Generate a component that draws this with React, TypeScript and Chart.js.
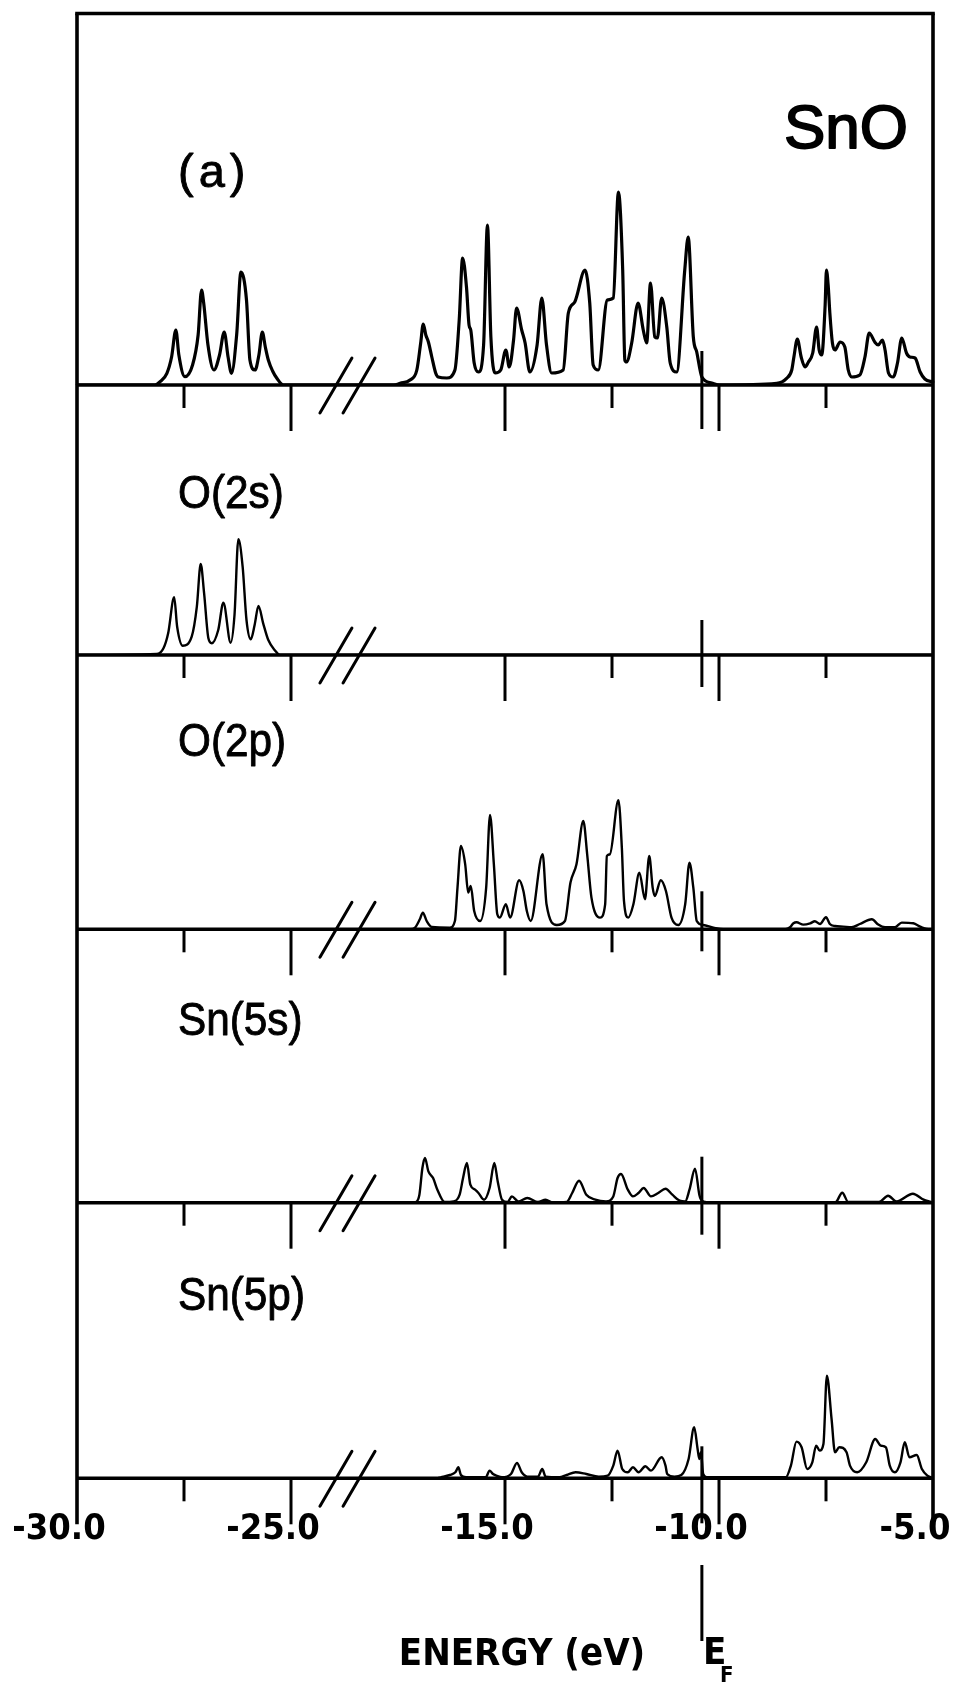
import React, { useEffect, useRef } from 'react';
import { Chart, LinearScale, registerables } from 'chart.js';

Chart.register(...registerables);

// ---------------- data ----------------
const X_MIN = -30;
const X_MAX = -5;
const X_TICKS = [-30, -25, -15, -10, -5];
const X_MINOR_TICKS = [-27.5, -12.5, -7.5];
const E_FERMI = -10.4;
// energies at or below BREAK_AT lie in the O(2s) window; the axis break removes BREAK_SHIFT eV
const BREAK_AT = -22;
const BREAK_SHIFT = 5;
const BREAK_MARKS = [-18.95, -18.41];

const PANEL_LABELS = ['(a)', 'O(2s)', 'O(2p)', 'Sn(5s)', 'Sn(5p)'];
// full scale of each panel (arbitrary DOS units)
const PANEL_RANGE = [371.5, 270, 274.3, 273.4, 275.6];

// [energy (eV), DOS (arb. units)]
const TOTAL_DOS = [
  [-30, 0], [-28.18, 0], [-28.06, 3.3], [-27.9, 11.7], [-27.79, 28], [-27.69, 55], [-27.62, 30],
  [-27.48, 8.3], [-27.3, 20], [-27.17, 50], [-27.09, 95], [-27.04, 82], [-26.94, 40], [-26.8, 15],
  [-26.67, 30], [-26.56, 53], [-26.47, 28], [-26.39, 11.7], [-26.27, 50], [-26.17, 113], [-26.04, 85],
  [-25.96, 25], [-25.84, 15], [-25.75, 30], [-25.67, 53], [-25.6, 38], [-25.53, 25], [-25.43, 14],
  [-25.33, 6.7], [-25.18, 0],
  [-17.6, 0], [-17.45, 1.7], [-17.22, 5], [-17.06, 15], [-16.97, 42], [-16.91, 61], [-16.85, 50],
  [-16.79, 43], [-16.71, 28], [-16.62, 12], [-16.56, 8], [-16.36, 7], [-16.17, 15], [-16.07, 65],
  [-15.99, 127], [-15.9, 98], [-15.84, 60], [-15.8, 55], [-15.72, 22], [-15.62, 13], [-15.5, 40],
  [-15.41, 160], [-15.33, 48], [-15.23, 12], [-15.1, 15], [-14.98, 35], [-14.9, 18], [-14.8, 45],
  [-14.73, 77], [-14.61, 55], [-14.53, 42], [-14.42, 13], [-14.25, 40], [-14.14, 87], [-14.03, 40],
  [-13.91, 12], [-13.64, 15], [-13.52, 72], [-13.37, 83], [-13.13, 115], [-13.02, 82], [-12.94, 20],
  [-12.82, 15], [-12.61, 85], [-12.47, 87], [-12.35, 193], [-12.25, 115], [-12.2, 25], [-12.16, 23],
  [-12.04, 42], [-11.89, 82], [-11.77, 55], [-11.69, 42], [-11.6, 102], [-11.5, 48], [-11.44, 47],
  [-11.34, 87], [-11.22, 58], [-11.14, 22], [-10.99, 13], [-10.8, 115], [-10.72, 148], [-10.6, 48],
  [-10.52, 33], [-10.4, 8], [-10.17, 2], [-9.98, 0],
  [-8.65, 1.7], [-8.42, 6.7], [-8.3, 15], [-8.25, 28], [-8.17, 46], [-8.08, 28], [-7.99, 18],
  [-7.91, 23], [-7.81, 32], [-7.72, 58], [-7.66, 35], [-7.6, 30], [-7.52, 80], [-7.49, 115],
  [-7.45, 100], [-7.41, 72], [-7.35, 42], [-7.29, 35], [-7.17, 43], [-7.06, 38], [-6.98, 15],
  [-6.9, 8], [-6.71, 10], [-6.59, 28], [-6.49, 52], [-6.36, 43], [-6.28, 40], [-6.18, 45],
  [-6.12, 35], [-6.04, 12], [-5.93, 8], [-5.83, 22], [-5.73, 47], [-5.62, 32], [-5.54, 28],
  [-5.42, 27], [-5.3, 13], [-5.19, 6], [-5, 3],
];

const O2S_DOS = [
  [-30, 0], [-28.14, 1], [-27.98, 6.7], [-27.87, 21.7], [-27.73, 57.7], [-27.66, 28.3], [-27.53, 9.3],
  [-27.32, 18.3], [-27.2, 48.3], [-27.11, 91], [-27.03, 61.7], [-26.93, 16.7], [-26.85, 11.7],
  [-26.7, 25], [-26.58, 52.3], [-26.41, 12.3], [-26.32, 40], [-26.23, 115.7], [-26.13, 88.3],
  [-26.04, 35], [-25.94, 15.7], [-25.85, 30], [-25.76, 49], [-25.65, 31.7], [-25.53, 15],
  [-25.37, 4.3], [-25.26, 0], [-5, 0],
];

const O2P_DOS = [
  [-30, 0], [-17.2, 0], [-17.1, 1.7], [-16.99, 10], [-16.92, 16.7], [-16.83, 8.3], [-16.71, 2.3],
  [-16.29, 1.7], [-16.17, 8.3], [-16.11, 41.7], [-16.03, 83.3], [-15.93, 65], [-15.86, 36.7],
  [-15.8, 43.3], [-15.72, 18.3], [-15.58, 8.3], [-15.44, 41.7], [-15.35, 114.3], [-15.26, 65],
  [-15.18, 15], [-15.12, 11.7], [-14.98, 25], [-14.88, 11.7], [-14.67, 49], [-14.57, 38.3],
  [-14.49, 18.3], [-14.4, 8.3], [-14.12, 75], [-14.03, 25], [-13.79, 4.3], [-13.6, 8.3],
  [-13.47, 46.7], [-13.33, 65], [-13.17, 108.3], [-13.08, 75], [-12.98, 31.7], [-12.78, 11.7],
  [-12.66, 25], [-12.62, 73.3], [-12.55, 75], [-12.35, 129], [-12.27, 81.7], [-12.22, 28.3],
  [-12.12, 11.7], [-12.0, 25], [-11.86, 56.7], [-11.73, 30], [-11.63, 73.3], [-11.55, 41.7],
  [-11.5, 33.3], [-11.36, 49], [-11.24, 38.3], [-11.11, 11.7], [-10.95, 4.3], [-10.79, 25],
  [-10.69, 66.7], [-10.6, 41.7], [-10.52, 8.3], [-10.37, 4.3], [-10.13, 1.7], [-9.9, 0],
  [-8.45, 0], [-8.34, 2], [-8.26, 6], [-8.19, 7], [-8.03, 4.7], [-7.87, 6], [-7.76, 8], [-7.64, 5.3],
  [-7.5, 12], [-7.41, 5.3], [-7.29, 3.3], [-7.1, 2.7], [-6.9, 2], [-6.71, 5.3], [-6.43, 10],
  [-6.28, 4.7], [-6.12, 2], [-5.89, 2], [-5.73, 6.7], [-5.46, 6], [-5.3, 2.7], [-5.15, 0.3], [-5, 0],
];

const SN5S_DOS = [
  [-30, 0], [-17.2, 0], [-17.08, 0.7], [-17.0, 8], [-16.93, 34.7], [-16.87, 44.7], [-16.79, 31.3],
  [-16.68, 24.7], [-16.58, 13], [-16.41, 0.7], [-16.2, 1.3], [-16.06, 8], [-15.98, 24.7],
  [-15.89, 39.7], [-15.81, 18], [-15.7, 13], [-15.62, 9.7], [-15.49, 3], [-15.36, 14.7],
  [-15.25, 39.7], [-15.17, 21.3], [-15.07, 3], [-14.94, 0.7], [-14.84, 6.3], [-14.69, 1.3],
  [-14.48, 4.7], [-14.23, 0.7], [-14.05, 3], [-13.9, 0.3], [-13.56, 0.7], [-13.43, 9.7],
  [-13.27, 22], [-13.1, 8], [-12.89, 3], [-12.64, 1.3], [-12.47, 6.3], [-12.37, 24.7],
  [-12.29, 28.7], [-12.13, 13], [-12.01, 6.3], [-11.88, 9.7], [-11.76, 14.7], [-11.59, 6.3],
  [-11.42, 9.7], [-11.25, 14], [-11.09, 8], [-10.92, 2], [-10.79, 1.3], [-10.69, 13], [-10.56, 34],
  [-10.46, 8], [-10.42, 3], [-10.33, 0.7], [-10.2, 0], [-7.4, 0], [-7.27, 0.7], [-7.12, 10],
  [-6.98, 0.7], [-6.26, 0.7], [-6.05, 7], [-5.85, 1.3], [-5.47, 9], [-5.22, 3], [-5.05, 0.7], [-5, 0],
];

const SN5P_DOS = [
  [-30, 0], [-16.6, 0], [-16.5, 1], [-16.29, 3.3], [-16.16, 6], [-16.09, 11], [-16.03, 3.3],
  [-15.91, 1], [-15.45, 1], [-15.36, 7.7], [-15.28, 4.3], [-15.2, 2.7], [-15.07, 1], [-14.86, 4.3],
  [-14.72, 15.3], [-14.61, 6], [-14.48, 1.7], [-14.23, 1.7], [-14.13, 9.3], [-14.05, 1.7],
  [-13.73, 1], [-13.56, 3.3], [-13.35, 6], [-13.1, 4.3], [-12.81, 1.7], [-12.6, 2.7], [-12.47, 12.7],
  [-12.37, 27.7], [-12.26, 9.3], [-12.13, 6], [-12.01, 11], [-11.88, 6], [-11.72, 12], [-11.59, 7.7],
  [-11.34, 21], [-11.25, 12.7], [-11.21, 4.3], [-11.04, 1.7], [-10.88, 3.3], [-10.71, 19.3],
  [-10.58, 51], [-10.5, 29.3], [-10.46, 19.3], [-10.42, 26], [-10.37, 4.3], [-10.29, 1],
  [-8.44, 1], [-8.32, 12.7], [-8.19, 36.7], [-8.07, 31], [-7.94, 9.3], [-7.82, 16], [-7.73, 32.7],
  [-7.65, 27.7], [-7.56, 34.3], [-7.48, 102.7], [-7.37, 59.3], [-7.29, 26], [-7.19, 31], [-7.02, 26],
  [-6.94, 12.7], [-6.77, 6], [-6.56, 16], [-6.35, 39.3], [-6.22, 32.7], [-6.1, 31], [-6.01, 12.7],
  [-5.89, 6], [-5.76, 16], [-5.66, 36], [-5.55, 21], [-5.38, 23.3], [-5.26, 9.3], [-5.13, 2.7],
  [-5.05, 1], [-5, 0],
];

const SERIES = [TOTAL_DOS, O2S_DOS, O2P_DOS, SN5S_DOS, SN5P_DOS];

// ---------------- style / layout ----------------
const W = 961;
const H = 1684;
const INK = '#000';
const PAD = { left: 77, right: 28, top: 13.5 };
const AXIS_BAND = 205.7;
const CURVE_W = [3.2, 2.4, 2.4, 2.4, 2.4];
const FRAME_W = 3.6;
const BASE_W = 3.4;
const TICK_W = 3;
const SHORT_TICK = 23;
const LONG_TICK = 46;
const EF_EXT = [[34, 44], [35, 32], [38, 22], [46, 32], [32, 45]];
const LABEL_X = 178;
const LABEL_Y = [174, 495, 743, 1022, 1297];
const LABEL_SQUEEZE = [1, 0.9, 0.9, 0.9, 0.9];
const LABEL_SPACING = ['5px', '0px', '0px', '0px', '0px'];
const LABEL_FONT = '47px "Liberation Sans", Arial, sans-serif';
const COND_BOLD = '"DejaVu Sans Condensed", "DejaVu Sans", sans-serif';

class BrokenLinearScale extends LinearScale {
  static id = 'brokenLinear';
  static defaults = {};
  determineDataLimits() {
    this.min = X_MIN + BREAK_SHIFT;
    this.max = X_MAX;
  }
  getPixelForValue(value: number) {
    return super.getPixelForValue(value <= BREAK_AT ? value + BREAK_SHIFT : value);
  }
}
Chart.register(BrokenLinearScale);

function seg(ctx: CanvasRenderingContext2D, x1: number, y1: number, x2: number, y2: number) {
  ctx.beginPath();
  ctx.moveTo(x1, y1);
  ctx.lineTo(x2, y2);
  ctx.stroke();
}

function boldText(ctx: CanvasRenderingContext2D, t: string, x: number, y: number, w: number) {
  ctx.fillText(t, x, y);
  ctx.lineWidth = w;
  ctx.strokeText(t, x, y);
}

const decor = {
  id: 'dosDecor',
  beforeDatasetsDraw(chart: any) {
    const { ctx, chartArea, scales } = chart;
    const xs = scales.x;
    ctx.save();
    ctx.strokeStyle = INK;
    ctx.lineCap = 'butt';
    // frame
    ctx.lineWidth = FRAME_W;
    seg(ctx, chartArea.left - FRAME_W / 2, chartArea.top, chartArea.right + FRAME_W / 2, chartArea.top);
    seg(ctx, xs.getPixelForValue(X_MIN), chartArea.top, xs.getPixelForValue(X_MIN), chartArea.bottom + LONG_TICK);
    seg(ctx, xs.getPixelForValue(X_MAX), chartArea.top, xs.getPixelForValue(X_MAX), chartArea.bottom + LONG_TICK);
    const xf = xs.getPixelForValue(E_FERMI);
    SERIES.forEach((_, i) => {
      const ys = scales['y' + i];
      const yb = ys.getPixelForValue(0);
      ctx.lineWidth = BASE_W;
      seg(ctx, chartArea.left, yb, chartArea.right, yb);
      ctx.lineWidth = TICK_W;
      X_MINOR_TICKS.forEach((v) => {
        const px = xs.getPixelForValue(v);
        seg(ctx, px, yb, px, yb + SHORT_TICK);
      });
      X_TICKS.forEach((v) => {
        if (v === X_MIN || v === X_MAX) return;
        const px = xs.getPixelForValue(v);
        seg(ctx, px, yb, px, yb + LONG_TICK);
      });
      seg(ctx, xf, yb - EF_EXT[i][0], xf, yb + EF_EXT[i][1]);
      ctx.lineWidth = 3;
      ctx.lineCap = 'round';
      BREAK_MARKS.forEach((v) => {
        const px = xs.getPixelForValue(v);
        seg(ctx, px - 16, yb + 28, px + 16, yb - 27);
      });
      ctx.lineCap = 'butt';
    });
    // Fermi level marker under the energy axis
    ctx.lineWidth = TICK_W;
    seg(ctx, xf, 1565, xf, 1641);
    ctx.restore();
  },
  afterDraw(chart: any) {
    const { ctx } = chart;
    ctx.save();
    ctx.fillStyle = INK;
    ctx.strokeStyle = INK;
    ctx.lineJoin = 'round';
    ctx.textBaseline = 'middle';
    ctx.textAlign = 'left';
    ctx.font = LABEL_FONT;
    PANEL_LABELS.forEach((t, i) => {
      ctx.save();
      ctx.letterSpacing = LABEL_SPACING[i];
      ctx.translate(LABEL_X, LABEL_Y[i]);
      ctx.scale(LABEL_SQUEEZE[i], 1);
      boldText(ctx, t, 0, 0, 0.9);
      ctx.restore();
    });
    ctx.font = '62px "Liberation Sans", Arial, sans-serif';
    ctx.textAlign = 'center';
    boldText(ctx, 'SnO', 846, 131, 1.8);
    ctx.font = `bold 38px ${COND_BOLD}`;
    ctx.fillText('ENERGY (eV)', 522, 1655);
    ctx.textAlign = 'left';
    ctx.fillText('E', 703, 1654);
    ctx.font = `bold 22px ${COND_BOLD}`;
    ctx.fillText('F', 720, 1676);
    ctx.restore();
  },
};

export default function App() {
  const ref = useRef<HTMLCanvasElement>(null);
  useEffect(() => {
    document.body.style.margin = '0';
    const scales: any = {
      x: {
        type: 'brokenLinear',
        position: 'bottom',
        bounds: 'data',
        afterBuildTicks: (s: any) => {
          s.ticks = X_TICKS.map((v) => ({ value: v }));
        },
        afterFit: (s: any) => {
          s.height = AXIS_BAND;
          s.paddingLeft = 0;
          s.paddingRight = 0;
        },
        grid: { display: false, drawTicks: false },
        border: { display: false },
        ticks: {
          autoSkip: false,
          maxRotation: 0,
          minRotation: 0,
          padding: 30,
          labelOffset: -18,
          color: INK,
          font: { family: COND_BOLD, size: 36, weight: 'bold' },
          callback: (v: any) => Number(v).toFixed(1),
        },
      },
    };
    PANEL_RANGE.forEach((r, i) => {
      scales['y' + i] = {
        type: 'linear',
        display: false,
        position: 'left',
        bounds: 'data',
        min: 0,
        max: r,
        stack: 'dos',
        stackWeight: r,
        weight: 10 - i,
      };
    });
    const chart = new Chart(ref.current as HTMLCanvasElement, {
      type: 'line',
      data: {
        datasets: SERIES.map((s, i) => ({
          label: PANEL_LABELS[i],
          data: s.map(([e, v]) => ({ x: e, y: v })),
          xAxisID: 'x',
          yAxisID: 'y' + i,
          borderColor: INK,
          borderWidth: CURVE_W[i],
          pointRadius: 0,
          fill: false,
          cubicInterpolationMode: 'monotone',
          borderJoinStyle: 'round',
          borderCapStyle: 'round',
        })),
      },
      options: {
        responsive: false,
        animation: false,
        devicePixelRatio: 1,
        layout: { padding: { left: PAD.left, right: PAD.right, top: PAD.top, bottom: 0 } },
        plugins: { legend: { display: false }, tooltip: { enabled: false }, title: { display: false } },
        scales,
      } as any,
      plugins: [decor],
    });
    return () => chart.destroy();
  }, []);
  return (
    <div style={{ width: W, height: H, background: '#fff', overflow: 'hidden' }}>
      <canvas ref={ref} width={W} height={H} style={{ display: 'block' }} />
    </div>
  );
}
